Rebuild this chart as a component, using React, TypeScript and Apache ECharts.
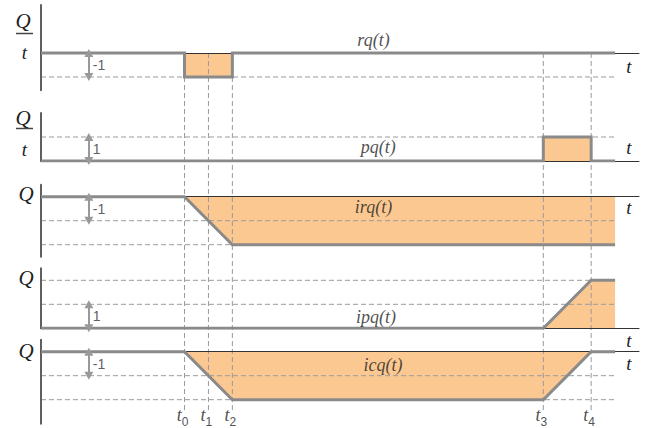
import React, { useEffect, useRef } from 'react';
import * as echarts from 'echarts';

// ---- data ----
const tickTimes = [6, 7, 8, 21, 23];
const tickSubs = ['0', '1', '2', '3', '4'];
const signalEnd = 24;
const axisEnd = 25;

const rqTimes = [0, 6, 6, 8, 8, 24];
const rqValues = [0, 0, -1, -1, 0, 0];
const pqTimes = [0, 21, 21, 23, 23, 24];
const pqValues = [0, 0, 1, 1, 0, 0];
const irqTimes = [0, 6, 8, 24];
const irqValues = [0, 0, -2, -2];
const ipqTimes = [0, 21, 23, 24];
const ipqValues = [0, 0, 2, 2];
const icqTimes = [0, 6, 8, 21, 23, 24];
const icqValues = [0, 0, -2, -2, 0, 0];

const panelNames = ['rq(t)', 'pq(t)', 'irq(t)', 'ipq(t)', 'icq(t)'];
const levelLines = [[-1], [1], [-1, -2], [1, 2], [-1, -2]];
const unitSteps = [-1, 1, -1, 1, -1];
const yMins = [-1.55, 0, -2.5, 0, -3];
const yMaxs = [2, 2, 0.5, 2.5, 0.5];

// ---- layout / style ----
const gridLeft = 41;
const gridWidth = 598;
const pxPerUnit = 24;
const gridTops = [5, 113, 184.7, 268.3, 339.7];
const nameAt = [[13.9, 0.54], [14.1, 0.58], [13.9, -0.43], [14.0, 0.47], [14.3, -0.55]];
const arrowX = 2;
const FILL = '#FCC891';
const SIGNAL = '#8a8a8a';
const DASH = '#9a9a9a';
const SERIF = 'Liberation Serif';
const SANS = 'Liberation Sans';

const signals = [
  [rqTimes, rqValues],
  [pqTimes, pqValues],
  [irqTimes, irqValues],
  [ipqTimes, ipqValues],
  [icqTimes, icqValues],
];

export default function App() {
  const ref = useRef<HTMLDivElement>(null);
  useEffect(() => {
    if (!ref.current) return;
    const chart = echarts.init(ref.current, undefined, { renderer: 'svg' });

    const grids: any[] = [];
    const xAxes: any[] = [];
    const yAxes: any[] = [];
    const series: any[] = [];

    signals.forEach(([times, values], i) => {
      grids.push({
        left: gridLeft,
        width: gridWidth,
        top: gridTops[i],
        height: (yMaxs[i] - yMins[i]) * pxPerUnit,
      });
      xAxes.push({
        type: 'value', gridIndex: i, min: 0, max: axisEnd, z: 3,
        axisLine: { show: true, onZero: true, lineStyle: { color: '#333', width: 1 } },
        axisTick: { show: false }, axisLabel: { show: false }, splitLine: { show: false },
      });
      yAxes.push({
        type: 'value', gridIndex: i, min: yMins[i], max: yMaxs[i], z: 3,
        axisLine: { show: true, onZero: false, lineStyle: { color: '#5f5f5f', width: 2 } },
        axisTick: { show: false }, axisLabel: { show: false }, splitLine: { show: false },
      });
      const pts = (times as number[]).map((t, k) => [t, (values as number[])[k]]);
      // fill
      series.push({
        type: 'line', xAxisIndex: i, yAxisIndex: i, data: pts, symbol: 'none', z: 1,
        lineStyle: { width: 0, opacity: 0 }, areaStyle: { color: FILL, opacity: 1, origin: 'auto' },
        silent: true,
      });
      // signal line
      series.push({
        type: 'line', xAxisIndex: i, yAxisIndex: i, data: pts, symbol: 'none', z: 4,
        lineStyle: { color: SIGNAL, width: 3, join: 'miter' }, silent: true,
      });
      // dashed levels
      levelLines[i].forEach((lev) => {
        series.push({
          type: 'line', xAxisIndex: i, yAxisIndex: i, data: [[0, lev], [signalEnd, lev]],
          symbol: 'none', z: 2, lineStyle: { color: DASH, width: 1, type: [5, 3] }, silent: true,
        });
      });
      // unit arrow + label
      series.push({
        type: 'scatter', xAxisIndex: i, yAxisIndex: i, z: 5, symbolSize: 0,
        data: [[arrowX, unitSteps[i] / 2]],
        label: {
          show: true, position: 'right', distance: 4, formatter: String(unitSteps[i]),
          fontFamily: SANS, fontSize: 14, color: '#333',
        },
        markLine: {
          silent: true, symbol: ['triangle', 'triangle'], symbolSize: [9, 8],
          lineStyle: { color: '#999', width: 2, type: 'solid' }, label: { show: false },
          data: [[{ coord: [arrowX, 0] }, { coord: [arrowX, unitSteps[i]] }]],
        },
      });
      // panel name
      series.push({
        type: 'scatter', xAxisIndex: i, yAxisIndex: i, z: 5, symbolSize: 0,
        data: [nameAt[i]],
        label: {
          show: true, position: 'inside', formatter: panelNames[i],
          fontFamily: SERIF, fontStyle: 'italic', fontSize: 18, color: '#222',
        },
      });
    });

    // overlay grid for time markers
    const ov = signals.length;
    grids.push({ left: gridLeft, width: gridWidth, top: 53, height: 357 });
    xAxes.push({ type: 'value', gridIndex: ov, min: 0, max: axisEnd, show: false });
    yAxes.push({ type: 'value', gridIndex: ov, min: 0, max: 1, show: false });
    tickTimes.forEach((t) => {
      series.push({
        type: 'line', xAxisIndex: ov, yAxisIndex: ov, data: [[t, 0], [t, 1]], symbol: 'none', z: 2,
        lineStyle: { color: DASH, width: 1, type: [5, 3] }, silent: true,
      });
    });
    series.push({
      type: 'scatter', xAxisIndex: ov, yAxisIndex: ov, z: 5, symbolSize: 0,
      data: tickTimes.map((t, k) => ({ value: [t, 0], name: tickSubs[k] })),
      label: {
        show: true, position: 'bottom', distance: 0, offset: [-2, -4],
        formatter: (p: any) => `{t|t}{s|${p.name}}`,
        rich: {
          t: { fontFamily: SERIF, fontStyle: 'italic', fontSize: 18, color: '#222', verticalAlign: 'top', lineHeight: 17 },
          s: { fontFamily: SANS, fontSize: 12, color: '#222', verticalAlign: 'bottom', lineHeight: 22 },
        },
      },
    });

    const qStyle = { fontFamily: SERIF, fontStyle: 'italic', fill: '#222', align: 'center', verticalAlign: 'middle' };
    const graphic: any[] = [
      { type: 'text', x: 23, y: 21, style: { ...qStyle, text: 'Q', fontSize: 21 } },
      { type: 'line', shape: { x1: 16, y1: 33.5, x2: 33, y2: 33.5 }, style: { stroke: '#444', lineWidth: 1.5 } },
      { type: 'text', x: 24.5, y: 52, style: { ...qStyle, text: 't', fontSize: 19 } },
      { type: 'text', x: 23, y: 118, style: { ...qStyle, text: 'Q', fontSize: 21 } },
      { type: 'line', shape: { x1: 16, y1: 128.5, x2: 33, y2: 128.5 }, style: { stroke: '#444', lineWidth: 1.5 } },
      { type: 'text', x: 24.5, y: 149, style: { ...qStyle, text: 't', fontSize: 19 } },
      { type: 'text', x: 26, y: 194, style: { ...qStyle, text: 'Q', fontSize: 21 } },
      { type: 'text', x: 26, y: 278, style: { ...qStyle, text: 'Q', fontSize: 21 } },
      { type: 'text', x: 26, y: 351, style: { ...qStyle, text: 'Q', fontSize: 21 } },
      ...[66, 147, 207, 340, 363].map((y) => ({
        type: 'text', x: 629, y, style: { ...qStyle, text: 't', fontSize: 19 },
      })),
    ];

    chart.setOption({
      animation: false,
      backgroundColor: '#ffffff',
      grid: grids,
      xAxis: xAxes,
      yAxis: yAxes,
      series,
      graphic,
    });
    return () => chart.dispose();
  }, []);
  return (
    <div
      ref={ref}
      style={{ position: 'absolute', left: 0, top: 0, width: 646, height: 428 }}
    />
  );
}
